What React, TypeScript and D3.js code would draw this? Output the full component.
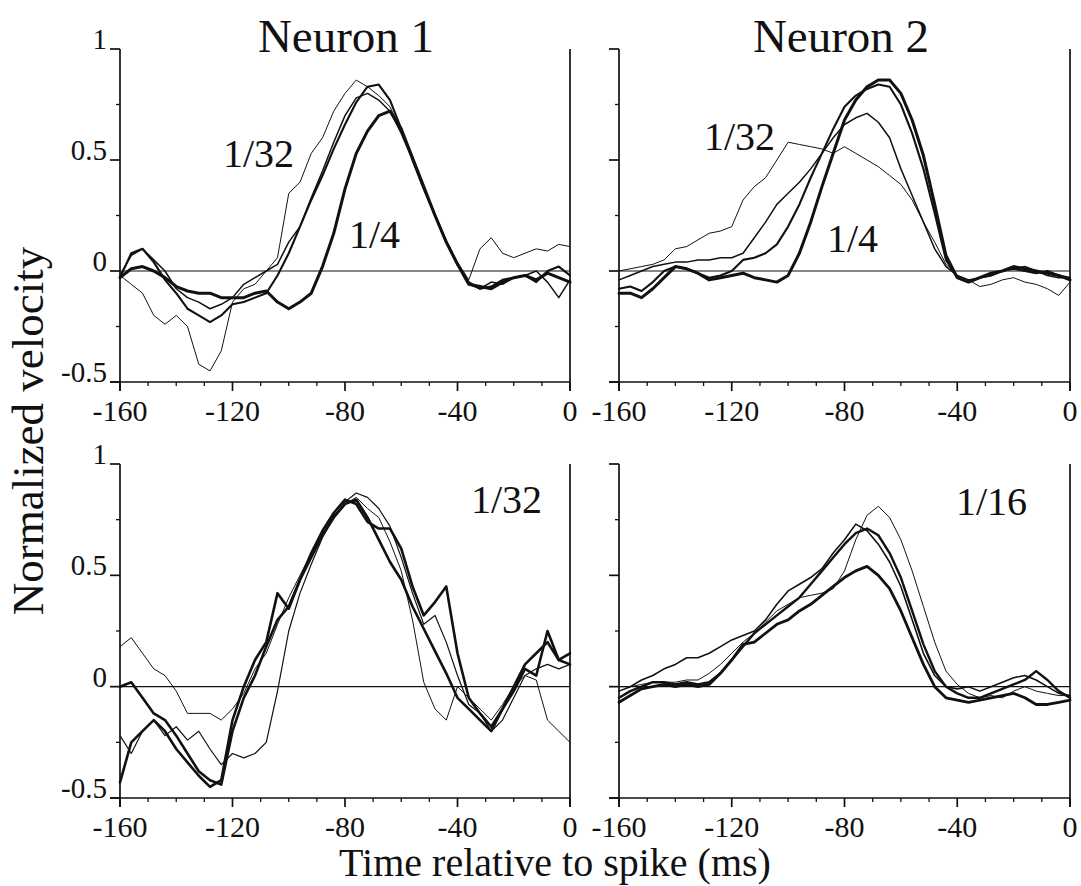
import React from "react";
import * as d3 from "d3";

// ---------- data ----------
const TIMES = [-160, -156, -152, -148, -144, -140, -136, -132, -128, -124, -120, -116, -112, -108, -104, -100, -96, -92, -88, -84, -80, -76, -72, -68, -64, -60, -56, -52, -48, -44, -40, -36, -32, -28, -24, -20, -16, -12, -8, -4, 0];

const X_MAJOR = [-160, -120, -80, -40, 0];
const X_LABELS = ["-160", "-120", "-80", "-40", "0"];
const X_MINOR = [-150, -140, -130, -110, -100, -90, -70, -60, -50, -30, -20, -10];
const Y_MAJOR = [1, 0.5, 0, -0.5];
const Y_LABELS = ["1", "0.5", "0", "-0.5"];
const Y_MINOR = [0.75, 0.25, -0.25];

const TITLES = ["Neuron 1", "Neuron 2"];
const X_TITLE = "Time relative to spike (ms)";
const Y_TITLE = "Normalized velocity";

// Neuron 1, stimulus sizes (top-left)
const n1Size32 = [-0.02, -0.06, -0.1, -0.2, -0.24, -0.2, -0.25, -0.42, -0.45, -0.36, -0.14, -0.08, -0.06, 0.0, 0.06, 0.35, 0.4, 0.53, 0.6, 0.72, 0.8, 0.86, 0.83, 0.79, 0.74, 0.63, 0.5, 0.38, 0.26, 0.14, 0.04, -0.04, 0.1, 0.15, 0.08, 0.06, 0.08, 0.1, 0.09, 0.12, 0.11];
const n1Size16 = [-0.02, 0.07, 0.1, 0.05, 0.0, -0.08, -0.12, -0.14, -0.17, -0.15, -0.12, -0.06, -0.03, 0.0, 0.03, 0.13, 0.2, 0.33, 0.45, 0.58, 0.7, 0.78, 0.8, 0.77, 0.72, 0.62, 0.5, 0.37, 0.25, 0.13, 0.03, -0.06, -0.08, -0.05, -0.06, -0.03, -0.02, 0.0, -0.05, -0.12, -0.04];
const n1Size8 = [-0.03, 0.08, 0.1, 0.04, -0.04, -0.1, -0.17, -0.2, -0.23, -0.2, -0.15, -0.14, -0.12, -0.1, -0.02, 0.08, 0.2, 0.32, 0.43, 0.55, 0.66, 0.76, 0.83, 0.84, 0.77, 0.64, 0.5, 0.37, 0.25, 0.13, 0.03, -0.05, -0.08, -0.07, -0.04, -0.03, -0.02, -0.05, 0.0, 0.02, -0.02];
const n1Size4 = [-0.03, 0.01, 0.02, 0.0, -0.03, -0.07, -0.09, -0.1, -0.1, -0.12, -0.12, -0.12, -0.1, -0.09, -0.14, -0.17, -0.14, -0.1, 0.02, 0.17, 0.37, 0.53, 0.63, 0.7, 0.72, 0.64, 0.51, 0.38, 0.25, 0.13, 0.03, -0.06, -0.07, -0.08, -0.05, -0.03, -0.02, -0.04, -0.01, -0.03, -0.05];

// Neuron 2, stimulus sizes (top-right)
const n2Size32 = [0.0, 0.01, 0.02, 0.03, 0.05, 0.1, 0.11, 0.14, 0.17, 0.18, 0.2, 0.32, 0.38, 0.42, 0.5, 0.58, 0.57, 0.56, 0.55, 0.53, 0.56, 0.53, 0.5, 0.47, 0.43, 0.39, 0.32, 0.22, 0.13, 0.03, -0.02, -0.04, -0.07, -0.06, -0.04, -0.03, -0.05, -0.06, -0.08, -0.11, -0.05];
const n2Size16 = [-0.04, -0.02, 0.0, 0.02, 0.03, 0.04, 0.04, 0.05, 0.05, 0.06, 0.06, 0.08, 0.15, 0.22, 0.3, 0.35, 0.4, 0.46, 0.53, 0.6, 0.66, 0.69, 0.71, 0.67, 0.6, 0.46, 0.34, 0.22, 0.1, 0.02, -0.02, -0.04, -0.03, -0.02, 0.0, 0.01, 0.02, 0.0, -0.02, -0.03, -0.03];
const n2Size8 = [-0.08, -0.07, -0.09, -0.05, 0.0, 0.02, 0.01, -0.01, -0.03, -0.02, 0.0, 0.05, 0.06, 0.08, 0.12, 0.2, 0.3, 0.42, 0.53, 0.64, 0.74, 0.79, 0.82, 0.84, 0.83, 0.75, 0.62, 0.46, 0.26, 0.05, -0.03, -0.05, -0.03, -0.02, 0.0, 0.01, 0.0, -0.01, 0.0, -0.02, -0.03];
const n2Size4 = [-0.1, -0.1, -0.12, -0.08, -0.03, 0.02, 0.01, -0.01, -0.04, -0.03, -0.02, -0.01, -0.03, -0.04, -0.05, -0.02, 0.08, 0.22, 0.38, 0.53, 0.68, 0.77, 0.83, 0.86, 0.86, 0.8, 0.68, 0.52, 0.3, 0.07, -0.03, -0.05, -0.03, -0.01, 0.0, 0.02, 0.01, 0.0, -0.01, -0.02, -0.04];

// Neuron 1, size 1/32 (bottom-left)
const n1RunA = [0.18, 0.22, 0.15, 0.08, 0.05, -0.02, -0.12, -0.12, -0.12, -0.15, -0.1, -0.03, 0.08, 0.15, 0.28, 0.4, 0.5, 0.6, 0.7, 0.77, 0.82, 0.85, 0.8, 0.76, 0.65, 0.52, 0.3, 0.02, -0.1, -0.15, 0.0, -0.05, -0.1, -0.15, -0.08, 0.0, 0.05, 0.03, -0.15, -0.2, -0.25];
const n1RunB = [-0.22, -0.3, -0.2, -0.15, -0.22, -0.18, -0.24, -0.2, -0.28, -0.35, -0.3, -0.32, -0.3, -0.25, -0.02, 0.25, 0.42, 0.55, 0.67, 0.76, 0.83, 0.87, 0.85, 0.8, 0.72, 0.58, 0.42, 0.28, 0.32, 0.2, 0.05, -0.08, -0.12, -0.2, -0.15, -0.05, 0.05, 0.08, 0.1, 0.08, 0.1];
const n1RunC = [0.0, 0.02, -0.05, -0.12, -0.15, -0.22, -0.3, -0.38, -0.42, -0.44, -0.2, -0.05, 0.05, 0.18, 0.3, 0.36, 0.48, 0.58, 0.68, 0.76, 0.82, 0.84, 0.76, 0.66, 0.56, 0.48, 0.36, 0.26, 0.16, 0.06, -0.05, -0.1, -0.15, -0.2, -0.1, -0.02, 0.08, 0.05, 0.25, 0.12, 0.1];
const n1RunD = [-0.43, -0.25, -0.2, -0.15, -0.2, -0.28, -0.34, -0.4, -0.45, -0.42, -0.15, 0.0, 0.12, 0.2, 0.42, 0.35, 0.48, 0.6, 0.7, 0.78, 0.84, 0.82, 0.74, 0.71, 0.71, 0.62, 0.45, 0.32, 0.38, 0.45, 0.15, -0.05, -0.12, -0.18, -0.1, 0.0, 0.1, 0.15, 0.2, 0.12, 0.15];

// Neuron 2, size 1/16 (bottom-right)
const n2RunA = [0.0, 0.0, 0.01, 0.02, 0.02, 0.02, 0.03, 0.03, 0.06, 0.1, 0.15, 0.2, 0.24, 0.29, 0.34, 0.37, 0.4, 0.41, 0.42, 0.44, 0.52, 0.66, 0.77, 0.81, 0.76, 0.66, 0.52, 0.36, 0.2, 0.07, 0.01, -0.03, -0.05, -0.04, -0.05, -0.02, 0.0, -0.02, -0.03, -0.04, -0.04];
const n2RunB = [-0.02, 0.0, 0.03, 0.05, 0.08, 0.1, 0.13, 0.13, 0.15, 0.18, 0.21, 0.23, 0.25, 0.3, 0.37, 0.43, 0.46, 0.49, 0.53, 0.6, 0.66, 0.73, 0.7, 0.64, 0.56, 0.45, 0.3, 0.15, 0.05, 0.0, -0.01, 0.0, -0.02, 0.0, 0.02, 0.04, 0.05, 0.03, 0.0, -0.03, -0.04];
const n2RunC = [-0.05, -0.02, 0.0, 0.02, 0.02, 0.01, 0.02, 0.01, 0.02, 0.06, 0.12, 0.18, 0.24, 0.28, 0.32, 0.36, 0.4, 0.46, 0.52, 0.58, 0.64, 0.69, 0.71, 0.68, 0.6, 0.49, 0.34, 0.19, 0.07, 0.0, -0.03, -0.05, -0.05, -0.03, -0.01, 0.01, 0.03, 0.07, 0.03, -0.02, -0.05];
const n2RunD = [-0.07, -0.04, -0.01, 0.0, 0.01, 0.0, 0.01, 0.0, 0.01, 0.06, 0.12, 0.19, 0.2, 0.24, 0.28, 0.3, 0.34, 0.37, 0.41, 0.45, 0.49, 0.52, 0.54, 0.5, 0.44, 0.34, 0.22, 0.1, 0.0, -0.05, -0.06, -0.07, -0.06, -0.05, -0.04, -0.03, -0.05, -0.08, -0.08, -0.07, -0.06];

// ---------- layout / style ----------
const FONT = "Liberation Serif, Tinos, Times New Roman, DejaVu Serif, serif";
const INK = "#111";
const WIDTHS = [1.0, 1.5, 2.1, 3.0];

type Label = { text: string; x: number; y: number };
type PanelDef = {
  x0: number; x1: number; y0: number; y1: number;
  series: number[][];
  widths: number[];
  yLabels: boolean;
  labels: Label[];
};

const PANELS: PanelDef[] = [
  { x0: 120, x1: 570, y0: 49, y1: 382, series: [n1Size32, n1Size16, n1Size8, n1Size4], widths: WIDTHS, yLabels: true,
    labels: [{ text: "1/32", x: 223, y: 167 }, { text: "1/4", x: 349, y: 248 }] },
  { x0: 619, x1: 1070, y0: 49, y1: 382, series: [n2Size32, n2Size16, n2Size8, n2Size4], widths: WIDTHS, yLabels: false,
    labels: [{ text: "1/32", x: 704, y: 150 }, { text: "1/4", x: 827, y: 252 }] },
  { x0: 120, x1: 570, y0: 464, y1: 798, series: [n1RunA, n1RunB, n1RunC, n1RunD], widths: [1.0, 1.2, 2.6, 2.6], yLabels: true,
    labels: [{ text: "1/32", x: 471, y: 513 }] },
  { x0: 619, x1: 1070, y0: 464, y1: 798, series: [n2RunA, n2RunB, n2RunC, n2RunD], widths: [1.0, 1.6, 2.4, 2.8], yLabels: false,
    labels: [{ text: "1/16", x: 956, y: 515 }] },
];

function Panel({ p }: { p: PanelDef }) {
  const x = d3.scaleLinear().domain([-160, 0]).range([p.x0, p.x1]);
  const y = d3.scaleLinear().domain([-0.5, 1]).range([p.y1, p.y0]);
  const line = d3.line<number>().x((_, i) => x(TIMES[i])).y((v) => y(v));
  const axisW = 1.7;
  return (
    <g>
      <line x1={p.x0} x2={p.x1} y1={y(0)} y2={y(0)} stroke={INK} strokeWidth={1.1} />
      {p.series.map((s, i) => (
        <path key={i} d={line(s) || ""} fill="none" stroke={INK} strokeWidth={p.widths[i]} strokeLinejoin="round" strokeLinecap="round" />
      ))}
      <line x1={p.x0} x2={p.x0} y1={p.y0} y2={p.y1 + 9} stroke={INK} strokeWidth={axisW} />
      <line x1={p.x1} x2={p.x1} y1={p.y0} y2={p.y1 + 9} stroke={INK} strokeWidth={axisW} />
      <line x1={p.x0 - 10} x2={p.x1} y1={p.y1} y2={p.y1} stroke={INK} strokeWidth={axisW} />
      {Y_MAJOR.map((v) => (
        <line key={"ym" + v} x1={p.x0 - 10} x2={p.x0} y1={y(v)} y2={y(v)} stroke={INK} strokeWidth={axisW} />
      ))}
      {Y_MINOR.map((v) => (
        <line key={"yn" + v} x1={p.x0 - 4} x2={p.x0} y1={y(v)} y2={y(v)} stroke={INK} strokeWidth={1.3} />
      ))}
      {X_MAJOR.map((v) => (
        <line key={"xm" + v} x1={x(v)} x2={x(v)} y1={p.y1} y2={p.y1 + 9} stroke={INK} strokeWidth={axisW} />
      ))}
      {X_MINOR.map((v) => (
        <line key={"xn" + v} x1={x(v)} x2={x(v)} y1={p.y1} y2={p.y1 + 4} stroke={INK} strokeWidth={1.3} />
      ))}
      {X_MAJOR.map((v, i) => (
        <text key={"xl" + v} x={x(v)} y={p.y1 + 39} textAnchor="middle" fontSize={30} style={{ fontFamily: FONT }} fill={INK}>
          {X_LABELS[i]}
        </text>
      ))}
      {p.yLabels &&
        Y_MAJOR.map((v, i) => (
          <text key={"yl" + v} x={p.x0 - 13} y={y(v)} textAnchor="end" fontSize={29} style={{ fontFamily: FONT }} fill={INK}>
            {Y_LABELS[i]}
          </text>
        ))}
      {p.labels.map((l, i) => (
        <text key={"lb" + i} x={l.x} y={l.y} fontSize={40} style={{ fontFamily: FONT }} fill={INK}>
          {l.text}
        </text>
      ))}
    </g>
  );
}

export default function App() {
  return (
    <svg width={1081} height={886} style={{ position: "absolute", left: 0, top: 0, background: "#fff" }}>
      <rect x={0} y={0} width={1081} height={886} fill="#fff" />
      {PANELS.map((p, i) => (
        <Panel key={i} p={p} />
      ))}
      <text x={346} y={52} textAnchor="middle" fontSize={47} style={{ fontFamily: FONT }} fill={INK}>{TITLES[0]}</text>
      <text x={841} y={52} textAnchor="middle" fontSize={47} style={{ fontFamily: FONT }} fill={INK}>{TITLES[1]}</text>
      <text x={555} y={876} textAnchor="middle" fontSize={40} style={{ fontFamily: FONT }} fill={INK}>{X_TITLE}</text>
      <text transform="translate(43,431) rotate(-90)" textAnchor="middle" fontSize={45} style={{ fontFamily: FONT }} fill={INK}>{Y_TITLE}</text>
    </svg>
  );
}
